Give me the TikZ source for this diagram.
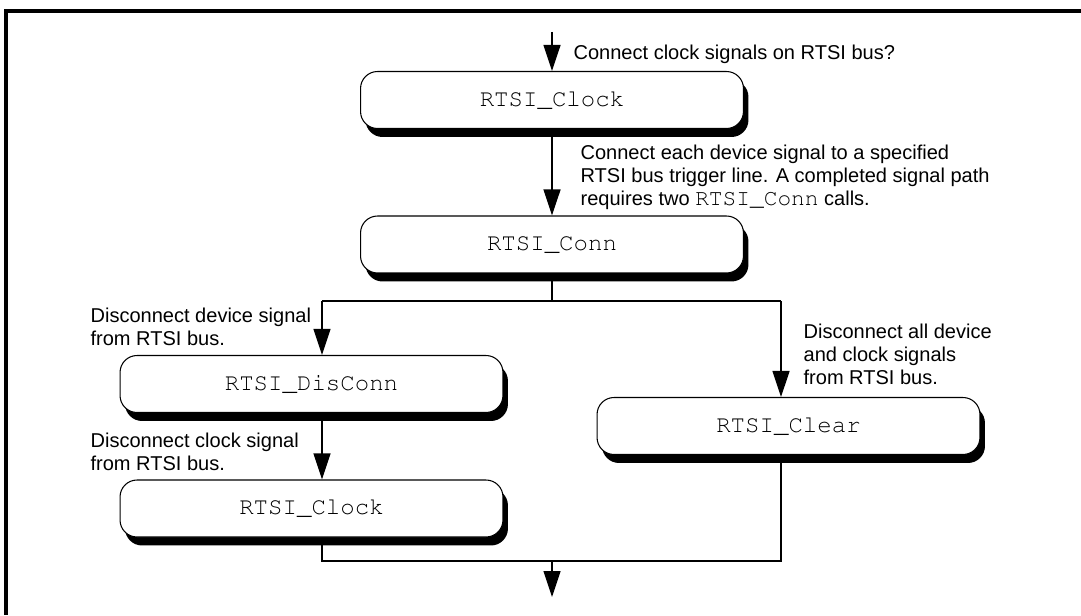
\documentclass[tikz,border=0pt]{standalone}
\usepackage[T1]{fontenc}
\usepackage{fontspec}
\setmainfont{Liberation Sans}
\newcommand{\crfont}{\fontencoding{T1}\fontfamily{pcr}\selectfont}
\usetikzlibrary{arrows.meta, shadows}

\begin{document}
\begin{tikzpicture}[x=0.02cm, y=-0.02cm, line width=0.7pt,
    main/.style = {draw, fill=white, rounded corners=0.34cm, minimum width=7.66cm, minimum height=1.14cm, line width=0.6pt, font=\crfont\fontsize{13.7}{16}\selectfont, general shadow={fill=black, shadow xshift=0.1cm, shadow yshift=-0.17cm}},
    note/.style = {align=left, anchor=north west, inner sep=0pt, font=\fontsize{11.4}{13.2}\selectfont},
    >={Triangle[length=0.52cm, width=0.34cm]}]
            \useasboundingbox (0,0) rectangle (1081,615);
            \draw[line width=2.2pt] (1081,11) -- (6,11) -- (6,615);
            \node[main] (1) at (552,100) {RTSI\_Clock};
            \node[main] (2) at (552,244.5) {RTSI\_Conn};
            \node[main] (3) at (311.5,384) {RTSI\_DisConn};
            \node[main] (4) at (311.5,508.5) {RTSI\_Clock};
            \node[main] (5) at (788.5,426) {RTSI\_Clear};
            \coordinate (a) at (552,32);
            \coordinate (b) at (552,301);
            \coordinate (c) at (322,301);
            \coordinate (d) at (781,301);
            \coordinate (e) at (552,561);
            \coordinate (f) at (552,597);
            \draw[->] (a) -- (1.north);
            \draw[->] (1) -- (2);
            \draw (2) -- (b);
            \draw (c) -- (d);
            \draw[->] (c) -- (c |- 3.north);
            \draw[->] (d) -- (d |- 5.north);
            \draw[->] (3.south -| c) -- (c |- 4.north);
            \draw (4.south -| c) -- (c |- e) -- (d |- e) -- (5.south -| d);
            \draw[->] (e) -- (f);
            \node[note] (n1) at (573,44) {Connect clock signals on RTSI bus?};
            \node[note] (n2) at (580,144) {Connect each device signal to a specified\\RTSI bus trigger line. A completed signal path\\requires two {\crfont\fontsize{13}{13.2}\selectfont RTSI\_Conn} calls.};
            \node[note] (n3) at (90,307) {Disconnect device signal\\from RTSI bus.};
            \node[note] (n4) at (90,432) {Disconnect clock signal\\from RTSI bus.};
            \node[note] (n5) at (803,323) {Disconnect all device\\and clock signals\\from RTSI bus.};
        \end{tikzpicture}
\end{document}
